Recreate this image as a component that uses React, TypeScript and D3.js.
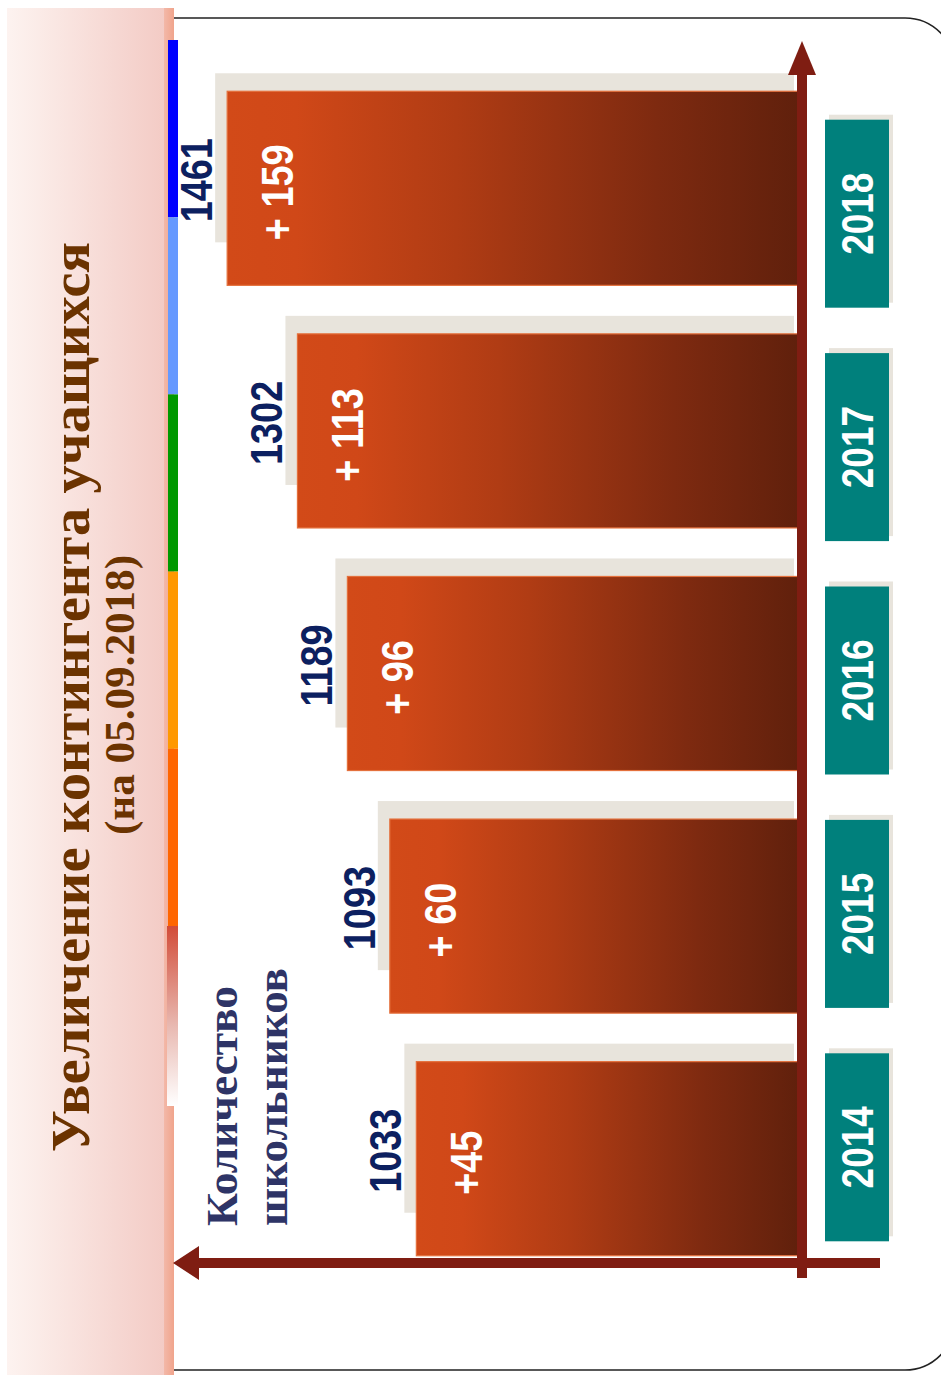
import React from "react";
import * as d3 from "d3";

// school enrolment by year (on 05.09 of each year)
const years = ["2014", "2015", "2016", "2017", "2018"];
const totals = [1033, 1093, 1189, 1302, 1461];
const increments = ["+45", "+ 60", "+ 96", "+ 113", "+ 159"];

const title = "Увеличение контингента учащихся";
const subtitle = "(на 05.09.2018)";
const axisLabel = ["Количество", "школьников"];

// decorative colour strip at the edge of the title panel
const stripColors = ["#0000ff", "#6699ff", "#009900", "#ff9900", "#ff6600"];

const W = 941;
const H = 1375;
const AXIS = "#7f1d12";
const NUM_FONT = "'Liberation Sans', Arial, sans-serif";
const SERIF = "'Liberation Serif', 'Times New Roman', serif";

const App: React.FC = () => {
  const yBand = d3
    .scaleBand<string>()
    .domain([...years].reverse())
    .range([67, 1280])
    .paddingInner(0.2)
    .paddingOuter(0.1);

  // year boxes sit on their own, slightly tighter, band
  const yearBand = d3
    .scaleBand<string>()
    .domain([...years].reverse())
    .range([97, 1264])
    .paddingInner(0.2)
    .paddingOuter(0.1);

  const x = d3.scaleLinear().domain([165, 1500]).range([800, 800 - 0.442 * 1335]);
  const base = x(165);
  const bw = yBand.bandwidth();

  const strip = d3
    .scaleBand<number>()
    .domain(d3.range(stripColors.length))
    .range([40, 926]);

  return (
    <svg
      width={W}
      height={H}
      style={{ position: "absolute", left: 0, top: 0, display: "block" }}
    >
      <defs>
        <linearGradient id="barGrad" x1="0" x2="1" y1="0" y2="0">
          <stop offset="0" stopColor="#d24a18" />
          <stop offset="0.12" stopColor="#d04818" />
          <stop offset="0.4" stopColor="#b03c14" />
          <stop offset="0.75" stopColor="#7e2a10" />
          <stop offset="1" stopColor="#60200c" />
        </linearGradient>
        <linearGradient id="panelGrad" x1="0" x2="1" y1="0" y2="0">
          <stop offset="0" stopColor="#fdf3f0" />
          <stop offset="1" stopColor="#f3cbc5" />
        </linearGradient>
        <linearGradient id="edgeGrad" x1="0" x2="1" y1="0" y2="0">
          <stop offset="0" stopColor="#f3b8a8" />
          <stop offset="1" stopColor="#f0a48c" />
        </linearGradient>
        <linearGradient id="fadeGrad" x1="0" x2="0" y1="0" y2="1">
          <stop offset="0" stopColor="#d24c38" />
          <stop offset="0.55" stopColor="#e8b8b0" />
          <stop offset="1" stopColor="#ffffff" />
        </linearGradient>
      </defs>

      {/* rounded frame */}
      <path
        d="M174,18 H905 A50,50 0 0 1 955,68 V1320 A50,50 0 0 1 905,1370 H174"
        fill="none"
        stroke="#222"
        strokeWidth={1.5}
      />

      {/* title panel */}
      <rect x={7} y={8} width={158} height={H} fill="url(#panelGrad)" />
      <rect x={164} y={8} width={10} height={H} fill="url(#edgeGrad)" />
      {stripColors.map((c, i) => (
        <rect key={c} x={168} y={strip(i)} width={10} height={strip.bandwidth()} fill={c} />
      ))}
      <rect x={167} y={926} width={11} height={180} fill="url(#fadeGrad)" />

      <text
        transform="translate(89,697) rotate(-90)"
        textAnchor="middle"
        fontFamily={SERIF}
        fontWeight="bold"
        fontSize={54}
        fill="#6b3300"
        textLength={910}
        lengthAdjust="spacingAndGlyphs"
      >
        {title}
      </text>
      <text
        transform="translate(134,695) rotate(-90)"
        textAnchor="middle"
        fontFamily={SERIF}
        fontWeight="bold"
        fontSize={42}
        fill="#6b3300"
        textLength={280}
        lengthAdjust="spacingAndGlyphs"
      >
        {subtitle}
      </text>

      {/* axis caption */}
      {axisLabel.map((t, i) => (
        <text
          key={t}
          transform={`translate(${237 + i * 50},1226) rotate(-90)`}
          fontFamily={SERIF}
          fontWeight="bold"
          fontSize={44}
          fill="#2e3466"
          textLength={i === 0 ? 240 : 258}
          lengthAdjust="spacingAndGlyphs"
        >
          {t}
        </text>
      ))}

      {/* bars */}
      {years.map((yr, i) => {
        const y0 = yBand(yr) as number;
        const left = x(totals[i]);
        const cy = y0 + bw / 2;
        return (
          <g key={yr}>
            <rect
              x={left - 12}
              y={y0 - 18}
              width={base - 6 - (left - 12)}
              height={bw - 25}
              fill="#e8e4dc"
            />
            <rect
              x={left}
              y={y0}
              width={base - left}
              height={bw}
              fill="url(#barGrad)"
              stroke="#e4703c"
              strokeWidth={1.2}
            />
            <text
              transform={`translate(${left + 66},${cy + 4}) rotate(-90) scale(0.86,1)`}
              textAnchor="middle"
              fontFamily={NUM_FONT}
              fontWeight="bold"
              fontSize={44}
              fill="#ffffff"
            >
              {increments[i]}
            </text>
            <text
              transform={`translate(${left - 15},${cy - 8}) rotate(-90) scale(0.86,1)`}
              textAnchor="middle"
              fontFamily={NUM_FONT}
              fontWeight="bold"
              fontSize={44}
              fill="#0c2060"
            >
              {totals[i]}
            </text>
          </g>
        );
      })}

      {/* axes */}
      <rect x={797} y={72} width={10} height={1206} fill={AXIS} />
      <polygon points="802,41 788,75 816,75" fill={AXIS} />
      <rect x={197} y={1258} width={683} height={10} fill={AXIS} />
      <polygon points="173,1263 199,1246 199,1280" fill={AXIS} />

      {/* year boxes */}
      {years.map((yr) => {
        const cy = (yearBand(yr) as number) + yearBand.bandwidth() / 2;
        return (
          <g key={"y" + yr}>
            <rect x={829} y={cy - 99} width={64} height={188} fill="#e8e4dc" />
            <rect x={825} y={cy - 94} width={64} height={188} fill="#00807c" />
            <text
              transform={`translate(873,${cy}) rotate(-90) scale(0.84,1)`}
              textAnchor="middle"
              fontFamily={NUM_FONT}
              fontWeight="bold"
              fontSize={44}
              fill="#ffffff"
            >
              {yr}
            </text>
          </g>
        );
      })}
    </svg>
  );
};

export default App;
